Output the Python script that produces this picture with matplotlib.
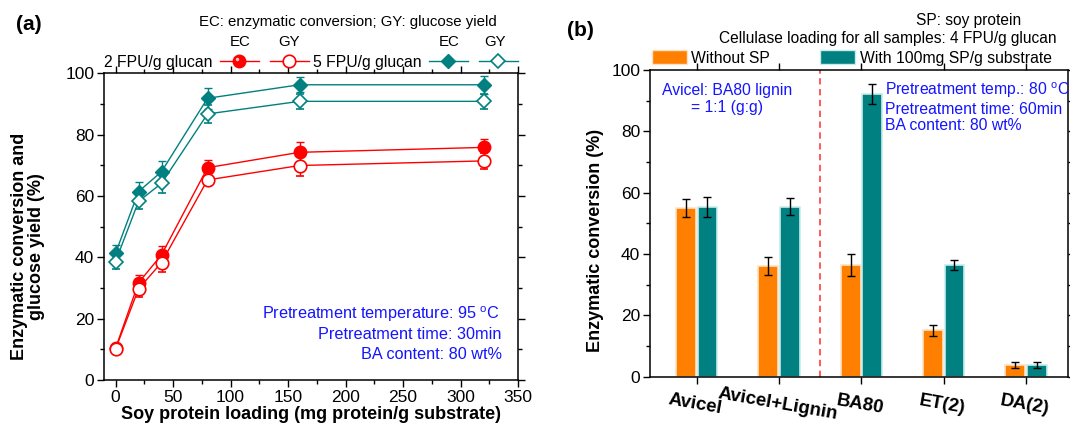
import matplotlib
matplotlib.use("Agg")
import matplotlib.pyplot as plt
import numpy as np
from matplotlib.lines import Line2D
from matplotlib.patches import Patch
from matplotlib.path import Path
from matplotlib.ticker import MultipleLocator

plt.rcParams['font.family'] = ['Liberation Sans', 'DejaVu Sans']
plt.rcParams['mathtext.fontset'] = 'custom'
plt.rcParams['mathtext.rm'] = 'Liberation Sans'
plt.rcParams['mathtext.it'] = 'Liberation Sans:italic'
plt.rcParams['mathtext.bf'] = 'Liberation Sans:bold'

# ---------------- data (a) ----------------
sp_loading = [0, 20, 40, 80, 160, 320]
ec_2fpu = [10.3, 31.7, 40.8, 69.2, 74.2, 75.8]
ec_2fpu_err = [1.0, 2.5, 3.0, 2.5, 3.5, 2.7]
gy_2fpu = [10.1, 29.7, 38.3, 65.2, 69.9, 71.4]
gy_2fpu_err = [1.0, 2.7, 3.1, 1.0, 3.3, 2.6]
ec_5fpu = [41.3, 61.4, 67.9, 91.8, 96.2, 96.2]
ec_5fpu_err = [2.7, 3.0, 3.6, 3.5, 2.5, 2.9]
gy_5fpu = [38.6, 58.2, 64.1, 86.7, 90.8, 90.8]
gy_5fpu_err = [2.5, 2.5, 3.3, 3.0, 2.4, 2.4]

# ---------------- data (b) ----------------
substrates = ['Avicel', 'Avicel+Lignin', 'BA80', 'ET(2)', 'DA(2)']
without_sp = [54.9, 36.2, 36.4, 15.2, 3.8]
without_sp_err = [2.9, 2.9, 3.5, 1.8, 0.9]
with_sp = [55.4, 55.4, 92.1, 36.4, 3.8]
with_sp_err = [3.3, 2.8, 3.2, 1.6, 1.0]

RED = '#FF0000'
TEAL = '#008080'
ORANGE = '#FF8000'
BLUE = '#1414FF'
TICKFS = 12.5
LABFS = 13
NOTEFS = 11.3

# highlight marker (sphere look): small circle offset to upper-left,
# lone MOVETO at (1,1) keeps the marker scale equal to the main circle
_t = np.linspace(0, 2 * np.pi, 30)
_verts = [(1.0, 1.0)] + [(-0.32 + 0.28 * np.cos(a), 0.32 + 0.28 * np.sin(a)) for a in _t]
_codes = [Path.MOVETO, Path.MOVETO] + [Path.LINETO] * (len(_t) - 2) + [Path.CLOSEPOLY]
HILITE = Path(_verts, _codes)

fig = plt.figure(figsize=(10.7, 4.3), dpi=100)

def style_axes(ax):
    for s in ax.spines.values():
        s.set_linewidth(1.1)
    ax.tick_params(which='both', direction='out', top=True, right=True, labelsize=TICKFS, width=1.0)
    ax.tick_params(which='major', length=5, pad=2)
    ax.tick_params(which='minor', length=3)

# ---------------- panel (a) ----------------
axa = fig.add_axes([0.0972, 0.116, 0.387, 0.714])
style_axes(axa)
ekw = dict(lw=1.0, capsize=3, elinewidth=1.0, capthick=1.0)
axa.errorbar(sp_loading, ec_2fpu, yerr=ec_2fpu_err, color=RED, marker='o', ms=9,
             mfc=RED, mec=RED, **ekw)
axa.plot(sp_loading, ec_2fpu, ls='none', marker=HILITE, ms=9, mfc='#FFC0C0', mec='none')
axa.errorbar(sp_loading, gy_2fpu, yerr=gy_2fpu_err, color=RED, marker='o', ms=9,
             mfc='white', mec=RED, mew=1.2, **ekw)
axa.errorbar(sp_loading, ec_5fpu, yerr=ec_5fpu_err, color=TEAL, marker='D', ms=7,
             mfc=TEAL, mec=TEAL, **ekw)
axa.errorbar(sp_loading, gy_5fpu, yerr=gy_5fpu_err, color=TEAL, marker='D', ms=7,
             mfc='white', mec=TEAL, mew=1.2, **ekw)
axa.set_xlim(-10, 350)
axa.set_ylim(0, 100)
axa.xaxis.set_major_locator(MultipleLocator(50))
axa.xaxis.set_minor_locator(MultipleLocator(25))
axa.yaxis.set_major_locator(MultipleLocator(20))
axa.yaxis.set_minor_locator(MultipleLocator(10))
axa.set_xlabel('Soy protein loading (mg protein/g substrate)', fontsize=LABFS, fontweight='bold', labelpad=1)
axa.set_ylabel('Enzymatic conversion and\nglucose yield (%)', fontsize=LABFS, fontweight='bold',
               linespacing=1.0)
axa.yaxis.set_label_coords(-0.143, 0.436)
axa.text(0.955, 0.215, 'Pretreatment temperature: 95 $^{\\mathrm{o}}$C', transform=axa.transAxes,
         ha='right', va='center', color=BLUE, fontsize=NOTEFS + 0.4)
axa.text(0.96, 0.15, 'Pretreatment time: 30min', transform=axa.transAxes,
         ha='right', va='center', color=BLUE, fontsize=NOTEFS + 0.4)
axa.text(0.96, 0.085, 'BA content: 80 wt%', transform=axa.transAxes,
         ha='right', va='center', color=BLUE, fontsize=NOTEFS + 0.4)

h1 = Line2D([], [], color=RED, marker='o', ms=9, mfc=RED, mec=RED, lw=1.0)
h1b = Line2D([], [], ls='none', marker=HILITE, ms=9, mfc='#FFC0C0', mec='none')
h2 = Line2D([], [], color=RED, marker='o', ms=9, mfc='white', mec=RED, mew=1.2, lw=1.0)
h3 = Line2D([], [], color=TEAL, marker='D', ms=7, mfc=TEAL, mec=TEAL, lw=1.0)
h4 = Line2D([], [], color=TEAL, marker='D', ms=7, mfc='white', mec=TEAL, mew=1.2, lw=1.0)
fig.legend([(h1, h1b), h2, h3, h4], ['2 FPU/g glucan', '', '5 FPU/g glucan', ''],
           ncol=4, markerfirst=False, frameon=False, fontsize=11.3,
           loc='center left', bbox_to_anchor=(104/1070, 1 - 62/430),
           handlelength=2.5, handletextpad=0.45, columnspacing=0.25, borderaxespad=0, borderpad=0)
fig.text(497/1070, 1 - 22/430, 'EC: enzymatic conversion; GY: glucose yield', ha='right', va='center', fontsize=10.8)
for xp, t in [(240, 'EC'), (289, 'GY'), (449, 'EC'), (495, 'GY')]:
    fig.text(xp/1070, 1 - 42/430, t, ha='center', va='center', fontsize=10.8)
fig.text(16/1070, 1 - 25/430, '(a)', fontsize=15, fontweight='bold', va='center', ha='left')

# ---------------- panel (b) ----------------
axb = fig.add_axes([0.6075, 0.124, 0.3907, 0.713])
style_axes(axb)
x = np.arange(len(substrates))
w = 0.24
bkw = dict(elinewidth=1.0, ecolor='black', capthick=1.0)
axb.bar(x - 0.13, without_sp, width=w, color=ORANGE, edgecolor='#FFE2C4', linewidth=1.2,
        yerr=without_sp_err, capsize=3, error_kw=bkw)
axb.bar(x + 0.13, with_sp, width=w, color=TEAL, edgecolor='#C8ECEC', linewidth=1.2,
        yerr=with_sp_err, capsize=3, error_kw=bkw)
axb.axvline(1.5, color='#FF4D4D', ls=(0, (3.5, 2.5)), lw=1.3)
axb.set_xlim(-0.567, 4.51)
axb.set_ylim(0, 100)
axb.set_xticks(x)
axb.set_xticklabels(substrates, rotation=-10, fontsize=13.5, fontweight='bold', ha='center',
                    va='top', rotation_mode='anchor')
axb.tick_params(axis='x', which='major', pad=9)
axb.tick_params(axis='x', which='minor', bottom=False, top=False)
axb.yaxis.set_major_locator(MultipleLocator(20))
axb.yaxis.set_minor_locator(MultipleLocator(10))
axb.set_ylabel('Enzymatic conversion (%)', fontsize=LABFS, fontweight='bold')
axb.yaxis.set_label_coords(-0.110, 0.446)
axb.text(0.185, 0.957, 'Avicel: BA80 lignin\n= 1:1 (g:g)', transform=axb.transAxes, ha='center',
         va='top', color=BLUE, fontsize=NOTEFS, multialignment='center', linespacing=1.15)
axb.text(0.563, 0.965, 'Pretreatment temp.: 80 $^{\\mathrm{o}}$C\nPretreatment time: 60min\nBA content: 80 wt%',
         transform=axb.transAxes, ha='left', va='top', color=BLUE, fontsize=NOTEFS, linespacing=1.12)

fig.legend([Patch(facecolor=ORANGE, edgecolor='#FFE2C4'), Patch(facecolor=TEAL, edgecolor='#C8ECEC')],
           ['Without SP', 'With 100mg SP/g substrate'], ncol=2, frameon=False, fontsize=11.3,
           loc='center left', bbox_to_anchor=(652/1070, 1 - 58/430), handlelength=2.2, handleheight=0.95,
           handletextpad=0.3, columnspacing=3.2, borderaxespad=0, borderpad=0)
fig.text(969/1070, 1 - 20/430, 'SP: soy protein', ha='center', va='center', fontsize=11.2)
fig.text(1057/1070, 1 - 39/430, 'Cellulase loading for all samples: 4 FPU/g glucan', ha='right',
         va='center', fontsize=11.2)
fig.text(567/1070, 1 - 30/430, '(b)', fontsize=15, fontweight='bold', va='center', ha='left')

fig.savefig('out.png', dpi=100)
